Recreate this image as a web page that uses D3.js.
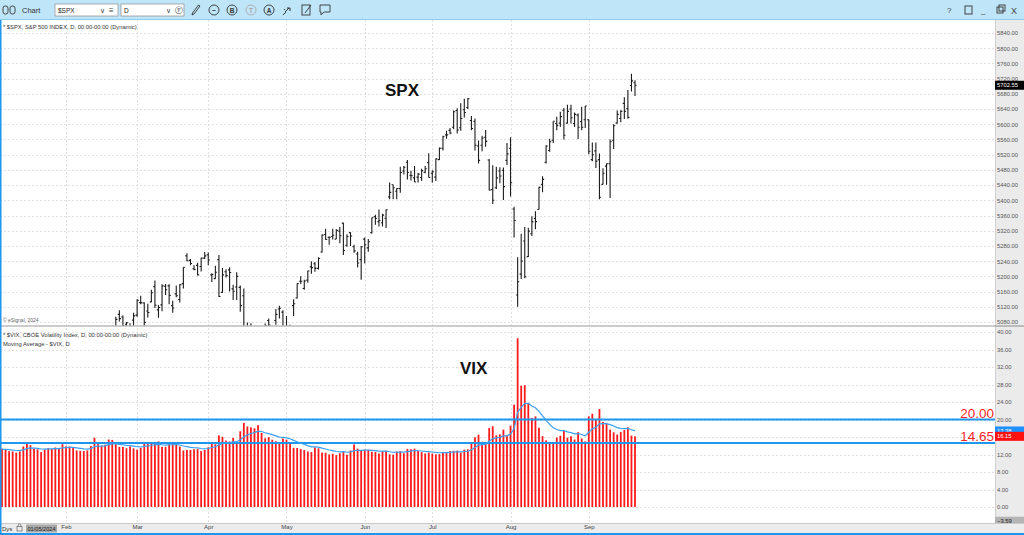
<!DOCTYPE html>
<html>
<head>
<meta charset="utf-8">
<script src="https://cdn.jsdelivr.net/npm/d3@7"></script>
<style>
  body { margin: 0; background: #fff; overflow: hidden; }
  svg { display: block; font-family: "Liberation Sans", Arial, sans-serif; }
</style>
</head>
<body>
<script>
// trading days on screen
var dates = [
  "2024-01-05","2024-01-08","2024-01-09","2024-01-10","2024-01-11","2024-01-12","2024-01-16","2024-01-17","2024-01-18","2024-01-19",
  "2024-01-22","2024-01-23","2024-01-24","2024-01-25","2024-01-26","2024-01-29","2024-01-30","2024-01-31",
  "2024-02-01","2024-02-02","2024-02-05","2024-02-06","2024-02-07","2024-02-08","2024-02-09","2024-02-12","2024-02-13","2024-02-14",
  "2024-02-15","2024-02-16","2024-02-20","2024-02-21","2024-02-22","2024-02-23","2024-02-26","2024-02-27","2024-02-28","2024-02-29",
  "2024-03-01","2024-03-04","2024-03-05","2024-03-06","2024-03-07","2024-03-08","2024-03-11","2024-03-12","2024-03-13","2024-03-14",
  "2024-03-15","2024-03-18","2024-03-19","2024-03-20","2024-03-21","2024-03-22","2024-03-25","2024-03-26","2024-03-27","2024-03-28",
  "2024-04-01","2024-04-02","2024-04-03","2024-04-04","2024-04-05","2024-04-08","2024-04-09","2024-04-10","2024-04-11","2024-04-12",
  "2024-04-15","2024-04-16","2024-04-17","2024-04-18","2024-04-19","2024-04-22","2024-04-23","2024-04-24","2024-04-25","2024-04-26",
  "2024-04-29","2024-04-30",
  "2024-05-01","2024-05-02","2024-05-03","2024-05-06","2024-05-07","2024-05-08","2024-05-09","2024-05-10","2024-05-13","2024-05-14",
  "2024-05-15","2024-05-16","2024-05-17","2024-05-20","2024-05-21","2024-05-22","2024-05-23","2024-05-24","2024-05-28","2024-05-29",
  "2024-05-30","2024-05-31",
  "2024-06-03","2024-06-04","2024-06-05","2024-06-06","2024-06-07","2024-06-10","2024-06-11","2024-06-12","2024-06-13","2024-06-14",
  "2024-06-17","2024-06-18","2024-06-20","2024-06-21","2024-06-24","2024-06-25","2024-06-26","2024-06-27","2024-06-28",
  "2024-07-01","2024-07-02","2024-07-03","2024-07-05","2024-07-08","2024-07-09","2024-07-10","2024-07-11","2024-07-12","2024-07-15",
  "2024-07-16","2024-07-17","2024-07-18","2024-07-19","2024-07-22","2024-07-23","2024-07-24","2024-07-25","2024-07-26","2024-07-29",
  "2024-07-30","2024-07-31",
  "2024-08-01","2024-08-02","2024-08-05","2024-08-06","2024-08-07","2024-08-08","2024-08-09","2024-08-12","2024-08-13","2024-08-14",
  "2024-08-15","2024-08-16","2024-08-19","2024-08-20","2024-08-21","2024-08-22","2024-08-23","2024-08-26","2024-08-27","2024-08-28",
  "2024-08-29","2024-08-30",
  "2024-09-03","2024-09-04","2024-09-05","2024-09-06","2024-09-09","2024-09-10","2024-09-11","2024-09-12","2024-09-13","2024-09-16",
  "2024-09-17","2024-09-18","2024-09-19","2024-09-20"
];

// $SPX daily bars: open, high, low, close
var spx = [
  // Jan
  [4690,4721,4682,4697],[4703,4764,4700,4764],[4741,4765,4730,4757],[4759,4791,4757,4783],[4792,4799,4739,4780],
  [4792,4803,4768,4784],[4772,4782,4747,4766],[4740,4744,4714,4739],[4760,4785,4740,4781],[4797,4842,4785,4840],
  [4853,4868,4844,4851],[4856,4866,4842,4865],[4888,4903,4865,4868],[4886,4898,4866,4895],[4888,4906,4881,4891],
  [4892,4929,4887,4928],[4926,4932,4917,4925],[4900,4906,4845,4846],
  // Feb
  [4862,4906,4853,4906],[4916,4975,4907,4959],[4958,4958,4918,4942],[4951,4957,4934,4954],[4973,5000,4965,4995],
  [4995,5000,4987,4998],[5005,5030,5000,5027],[5026,5048,5016,5022],[4967,4971,4920,4953],[4976,5003,4963,5001],
  [5003,5032,4999,5030],[5031,5039,4999,5006],[4990,4994,4954,4976],[4964,4983,4946,4982],[5038,5094,5038,5087],
  [5100,5111,5081,5089],[5093,5097,5068,5070],[5074,5080,5057,5078],[5067,5077,5058,5069],[5085,5104,5062,5096],
  // Mar
  [5098,5140,5094,5137],[5131,5149,5127,5131],[5130,5132,5061,5079],[5109,5128,5092,5105],[5133,5165,5132,5157],
  [5173,5189,5117,5124],[5112,5125,5091,5118],[5125,5179,5108,5175],[5174,5180,5151,5165],[5175,5179,5127,5150],
  [5123,5136,5104,5117],[5154,5176,5145,5149],[5139,5180,5131,5178],[5181,5224,5168,5224],[5254,5261,5240,5241],
  [5242,5246,5229,5234],[5220,5229,5216,5218],[5229,5236,5203,5204],[5226,5249,5213,5248],[5248,5264,5246,5254],
  // Apr
  [5257,5263,5229,5243],[5204,5208,5185,5205],[5194,5228,5194,5211],[5244,5256,5146,5147],[5158,5222,5157,5204],
  [5212,5219,5197,5202],[5217,5224,5160,5210],[5167,5178,5138,5161],[5172,5211,5138,5200],[5171,5176,5107,5123],
  [5149,5168,5052,5062],[5064,5079,5039,5051],[5068,5077,5007,5022],[5032,5046,4998,5011],[5005,5019,4954,4967],
  [4988,5038,4969,5011],[5029,5076,5027,5070],[5084,5089,5047,5072],[5020,5057,5002,5048],[5084,5114,5073,5100],
  [5114,5123,5089,5116],[5106,5111,5035,5036],
  // May
  [5030,5096,5013,5018],[5050,5073,5011,5064],[5123,5140,5096,5128],[5143,5181,5142,5181],[5187,5200,5180,5187],
  [5168,5191,5165,5188],[5190,5215,5183,5214],[5225,5240,5207,5223],[5233,5238,5212,5221],[5221,5250,5218,5247],
  [5264,5311,5263,5308],[5310,5325,5296,5297],[5303,5305,5283,5303],[5305,5325,5297,5308],[5298,5324,5298,5321],
  [5319,5330,5287,5307],[5340,5341,5256,5268],[5282,5311,5278,5305],[5315,5316,5280,5306],[5278,5283,5262,5267],
  [5259,5265,5223,5235],[5244,5280,5191,5278],
  // Jun
  [5298,5302,5234,5283],[5275,5298,5265,5291],[5315,5354,5313,5354],[5357,5362,5336,5352],[5344,5376,5331,5347],
  [5341,5365,5331,5361],[5353,5376,5327,5375],[5409,5447,5403,5421],[5441,5441,5403,5433],[5424,5432,5403,5431],
  [5431,5488,5420,5473],[5477,5490,5468,5487],[5500,5506,5455,5473],[5466,5478,5452,5465],[5459,5490,5448,5448],
  [5461,5472,5447,5469],[5460,5483,5451,5478],[5474,5490,5471,5483],[5499,5524,5460,5460],
  // Jul
  [5471,5479,5446,5475],[5461,5510,5451,5509],[5507,5539,5506,5537],[5537,5570,5531,5567],[5572,5583,5562,5572],
  [5584,5590,5574,5577],[5592,5636,5587,5633],[5636,5642,5576,5585],[5591,5655,5583,5615],[5638,5667,5618,5631],
  [5644,5669,5640,5667],[5610,5622,5584,5589],[5608,5615,5531,5545],[5543,5557,5497,5505],[5545,5570,5529,5564],
  [5566,5585,5541,5555],[5506,5508,5426,5427],[5428,5492,5390,5400],[5433,5488,5430,5459],[5477,5487,5445,5464],
  [5479,5486,5401,5436],[5505,5551,5493,5522],
  // Aug
  [5537,5566,5410,5446],[5377,5383,5302,5347],[5151,5250,5120,5186],[5206,5312,5193,5240],[5293,5330,5195,5199],
  [5252,5328,5251,5319],[5312,5358,5306,5344],[5352,5371,5324,5344],[5376,5436,5376,5434],[5442,5463,5421,5455],
  [5500,5545,5497,5543],[5531,5562,5528,5554],[5558,5608,5551,5608],[5602,5620,5584,5597],[5603,5633,5593,5620],
  [5637,5643,5560,5571],[5603,5651,5602,5634],[5640,5651,5602,5617],[5602,5631,5593,5626],[5624,5628,5561,5592],
  [5607,5646,5584,5592],[5612,5648,5590,5648],
  // Sep
  [5612,5613,5521,5529],[5507,5552,5503,5520],[5530,5552,5485,5503],[5507,5523,5403,5408],[5442,5484,5442,5471],
  [5490,5497,5441,5496],[5496,5560,5406,5554],[5558,5600,5535,5596],[5603,5636,5602,5626],[5615,5637,5605,5634],
  [5655,5671,5614,5634],[5641,5690,5615,5618],[5702,5733,5686,5714],[5709,5716,5674,5702.55]
];

// $VIX closes, plus the nine sessions before the first bar (seed for the moving average)
var vixPrior = [13.65, 13.03, 12.99, 12.43, 12.47, 12.45, 13.20, 14.04, 14.13];
var vixClose = [
  13.35,13.08,12.76,12.69,12.44,12.70,13.84,14.79,14.13,13.30,13.19,12.55,13.14,13.45,13.26,13.60,13.31,14.35,
  13.88,13.85,13.67,12.93,12.83,12.79,12.93,13.93,15.85,14.38,14.01,14.24,15.42,15.34,14.54,13.75,13.74,13.43,13.84,13.40,
  13.11,13.49,14.46,14.50,14.44,14.74,15.00,13.75,13.75,14.40,14.41,14.33,13.82,12.92,13.06,13.06,13.19,13.24,12.78,13.01,
  13.65,14.61,14.33,16.35,16.03,15.19,14.98,15.80,14.91,17.31,19.23,18.40,18.21,18.00,18.71,16.94,15.69,15.97,15.37,15.03,14.67,15.65,
  15.39,14.68,13.49,13.49,13.23,13.00,12.69,12.55,13.60,13.42,12.45,12.42,11.99,12.15,11.86,12.29,12.77,11.93,12.92,14.28,13.33,12.92,
  13.11,13.06,12.63,12.58,12.22,12.74,12.85,12.04,11.94,12.66,12.75,12.30,13.28,13.20,13.33,12.84,12.55,12.24,12.44,
  12.22,12.03,12.09,12.48,12.37,12.79,12.85,12.89,12.46,13.12,13.19,14.48,15.93,16.52,14.91,14.72,18.04,18.46,16.39,16.60,17.69,16.36,
  18.59,23.39,38.57,27.71,27.85,23.79,20.37,20.71,18.12,16.19,15.23,14.80,14.65,15.88,16.27,17.55,15.86,16.15,15.43,17.11,15.65,15.00,
  20.72,21.32,19.90,22.38,19.45,19.08,17.69,17.07,16.56,17.14,17.61,18.23,16.33,16.15
];

var spxTicks = [5080,5120,5160,5200,5240,5280,5320,5360,5400,5440,5480,5520,5560,5600,5640,5680,5720,5760,5800,5840];
var vixTicks = [0,4,8,12,16,20,24,28,32,36,40];
var vixLevels = [20.00, 14.65];
var maLength = 10;
var maLast = 17.38;
var axisMin = -3.59;

var W = 1024, H = 535;
var plotRight = 995;
var spxTop = 20, spxBottom = 325.5;
var vixTop = 326.5, vixBottom = 523;

var parse = d3.timeParse("%Y-%m-%d");
var fmtMonth = d3.timeFormat("%b");

var x = d3.scaleLinear().domain([0, dates.length - 1]).range([2, 635]);
var ySpx = d3.scaleLinear().domain([5080, 5840]).range([322, 33]);
var yVix = d3.scaleLinear().domain([0, 40]).range([507, 332]);

// first session of each month -> vertical grid + axis label
var monthStarts = [];
dates.forEach(function(d, i) {
  if (i > 0 && dates[i - 1].slice(5, 7) != d.slice(5, 7)) monthStarts.push(i);
});

// exponential moving average of VIX, seeded with the prior sessions
var k = 2 / (maLength + 1);
var ema = d3.mean(vixPrior);
var vixMA = vixClose.map(function(v) {
  ema = ema + k * (v - ema);
  return ema;
});

var svg = d3.select("body").append("svg").attr("width", W).attr("height", H);
svg.append("rect").attr("width", W).attr("height", H).attr("fill", "#fff");

var defs = svg.append("defs");
defs.append("clipPath").attr("id", "clipSpx").append("rect")
  .attr("x", 0).attr("y", spxTop).attr("width", plotRight).attr("height", spxBottom - spxTop);
defs.append("clipPath").attr("id", "clipVix").append("rect")
  .attr("x", 0).attr("y", vixTop).attr("width", plotRight).attr("height", vixBottom - vixTop);

// grid
var grid = svg.append("g").attr("stroke", "#d9d9d9").attr("stroke-dasharray", "2,2").attr("stroke-width", 0.8);
grid.selectAll(".hs").data(spxTicks).enter().append("line")
  .attr("x1", 0).attr("x2", plotRight)
  .attr("y1", function(d) { return Math.round(ySpx(d)) + 0.5; })
  .attr("y2", function(d) { return Math.round(ySpx(d)) + 0.5; });
grid.selectAll(".hv").data(vixTicks).enter().append("line")
  .attr("x1", 0).attr("x2", plotRight)
  .attr("y1", function(d) { return Math.round(yVix(d)) + 0.5; })
  .attr("y2", function(d) { return Math.round(yVix(d)) + 0.5; });
grid.selectAll(".v").data(monthStarts).enter().append("line")
  .attr("x1", function(d) { return Math.round(x(d)) + 0.5; })
  .attr("x2", function(d) { return Math.round(x(d)) + 0.5; })
  .attr("y1", spxTop).attr("y2", vixBottom);

// SPX OHLC bars
var bars = svg.append("g").attr("clip-path", "url(#clipSpx)")
  .attr("stroke", "#1c1c1c").attr("stroke-width", 1.1);
var bar = bars.selectAll("g").data(spx).enter().append("g");
bar.append("line")
  .attr("x1", function(d, i) { return x(i); }).attr("x2", function(d, i) { return x(i); })
  .attr("y1", function(d) { return ySpx(d[1]); }).attr("y2", function(d) { return ySpx(d[2]); });
bar.append("line")
  .attr("x1", function(d, i) { return x(i) - 1.6; }).attr("x2", function(d, i) { return x(i); })
  .attr("y1", function(d) { return ySpx(d[0]); }).attr("y2", function(d) { return ySpx(d[0]); });
bar.append("line")
  .attr("x1", function(d, i) { return x(i); }).attr("x2", function(d, i) { return x(i) + 1.6; })
  .attr("y1", function(d) { return ySpx(d[3]); }).attr("y2", function(d) { return ySpx(d[3]); });

// VIX histogram + MA + levels
var vg = svg.append("g").attr("clip-path", "url(#clipVix)");
vg.selectAll("rect").data(vixClose).enter().append("rect")
  .attr("x", function(d, i) { return x(i) - 0.9; })
  .attr("width", 1.8)
  .attr("y", function(d) { return yVix(d); })
  .attr("height", function(d) { return yVix(0) - yVix(d); })
  .attr("fill", "#ff1a1a");

vg.selectAll(".lvl").data(vixLevels).enter().append("line")
  .attr("x1", 0).attr("x2", plotRight)
  .attr("y1", function(d) { return yVix(d); }).attr("y2", function(d) { return yVix(d); })
  .attr("stroke", "#1e96ee").attr("stroke-width", 2);

vg.append("path").datum(vixMA)
  .attr("fill", "none").attr("stroke", "#3aa0f0").attr("stroke-width", 1.2)
  .attr("d", d3.line().x(function(d, i) { return x(i); }).y(function(d) { return yVix(d); }));

svg.selectAll(".lvlText").data(vixLevels).enter().append("text")
  .attr("x", plotRight - 1).attr("y", function(d) { return yVix(d) - 2; })
  .attr("text-anchor", "end").attr("fill", "#ff1f1f")
  .style("font-size", "13.5px")
  .text(function(d) { return d3.format(".2f")(d); });

// annotations
svg.append("text").attr("x", 385).attr("y", 96).style("font-size", "17px").style("font-weight", "bold")
  .attr("fill", "#111").text("SPX");
svg.append("text").attr("x", 460).attr("y", 374).style("font-size", "17px").style("font-weight", "bold")
  .attr("fill", "#111").text("VIX");

// pane legends
var legend = svg.append("g").attr("fill", "#333").style("font-size", "5.8px");
legend.append("text").attr("x", 3).attr("y", 29).text("* $SPX, S&P 500 INDEX, D, 00:00-00:00 (Dynamic)");
legend.append("text").attr("x", 3).attr("y", 322).style("font-size", "5px").attr("fill", "#666").text("\u00a9 eSignal, 2024");
legend.append("text").attr("x", 3).attr("y", 337).text("* $VIX, CBOE Volatility Index, D, 00:00-00:00 (Dynamic)");
legend.append("text").attr("x", 3).attr("y", 346).text("Moving Average - $VIX, D");

// pane separator
svg.append("line").attr("x1", 0).attr("x2", W).attr("y1", 326).attr("y2", 326)
  .attr("stroke", "#9a9a9a").attr("stroke-width", 1.2);

// right price axes
svg.append("rect").attr("x", plotRight).attr("y", spxTop).attr("width", W - plotRight).attr("height", vixBottom - spxTop)
  .attr("fill", "#ebebeb");
svg.append("line").attr("x1", plotRight + 0.5).attr("x2", plotRight + 0.5).attr("y1", spxTop).attr("y2", vixBottom)
  .attr("stroke", "#cfcfcf");
svg.append("line").attr("x1", plotRight).attr("x2", W).attr("y1", 326).attr("y2", 326)
  .attr("stroke", "#9a9a9a").attr("stroke-width", 1.2);

var axSpx = svg.append("g").attr("transform", "translate(" + plotRight + ",0)")
  .call(d3.axisRight(ySpx).tickValues(spxTicks).tickSize(0).tickPadding(2).tickFormat(d3.format(".2f")));
var axVix = svg.append("g").attr("transform", "translate(" + plotRight + ",0)")
  .call(d3.axisRight(yVix).tickValues(vixTicks).tickSize(0).tickPadding(2).tickFormat(d3.format(".2f")));
[axSpx, axVix].forEach(function(a) {
  a.select(".domain").remove();
  a.selectAll("text").attr("fill", "#555").style("font-size", "5.8px").style("font-family", "Liberation Sans, Arial");
});

// last value tags
function tag(y, label, bg, fg) {
  svg.append("rect").attr("x", plotRight).attr("y", y - 4.5).attr("width", W - plotRight).attr("height", 9).attr("fill", bg);
  svg.append("text").attr("x", plotRight + 2).attr("y", y + 2.1).attr("fill", fg)
    .style("font-size", "5.8px").text(label);
}
var lastSpx = spx[spx.length - 1][3];
tag(ySpx(lastSpx), d3.format(".2f")(lastSpx), "#000", "#fff");
tag(yVix(maLast), d3.format(".2f")(maLast), "#1e90ff", "#fff");
tag(yVix(vixClose[vixClose.length - 1]), d3.format(".2f")(vixClose[vixClose.length - 1]), "#ff1010", "#fff");
tag(yVix(axisMin) - 1.5, d3.format(".2f")(axisMin), "#b4b4b4", "#222");

// time axis strip
svg.append("rect").attr("x", 0).attr("y", vixBottom).attr("width", W).attr("height", H - vixBottom).attr("fill", "#ececec");
svg.append("line").attr("x1", 0).attr("x2", W).attr("y1", vixBottom + 0.5).attr("y2", vixBottom + 0.5).attr("stroke", "#c8c8c8");
var axX = svg.append("g").attr("transform", "translate(0," + vixBottom + ")")
  .call(d3.axisBottom(x).tickValues(monthStarts).tickSize(0).tickPadding(2)
    .tickFormat(function(i) { return fmtMonth(parse(dates[i])); }));
axX.select(".domain").remove();
axX.selectAll("text").attr("fill", "#444").style("font-size", "6px").style("font-family", "Liberation Sans, Arial");

svg.append("text").attr("x", 2).attr("y", 531).attr("fill", "#333").style("font-size", "6px").text("Dys");
svg.append("rect").attr("x", 17).attr("y", 526.5).attr("width", 5).attr("height", 4.5).attr("fill", "none").attr("stroke", "#666").attr("stroke-width", 0.7);
svg.append("path").attr("d", "M18.2,526.5 v-1.3 a1.3,1.3 0 0 1 2.6,0 v1.3").attr("fill", "none").attr("stroke", "#666").attr("stroke-width", 0.7);
svg.append("rect").attr("x", 26).attr("y", 524.5).attr("width", 31).attr("height", 8).attr("fill", "#a9a9a9");
svg.append("text").attr("x", 27.5).attr("y", 530.8).attr("fill", "#222").style("font-size", "5.6px")
  .text(d3.timeFormat("%m/%d/%Y")(parse(dates[0])));

// window frame
svg.append("rect").attr("x", 0).attr("y", 533).attr("width", W).attr("height", 2).attr("fill", "#1e96ee");
svg.append("rect").attr("x", 0).attr("y", 20).attr("width", 1.5).attr("height", H - 20).attr("fill", "#1e96ee");

// toolbar
var tb = svg.append("g");
tb.append("rect").attr("width", W).attr("height", 20).attr("fill", "#bfe5f8");
tb.append("line").attr("x1", 0).attr("x2", W).attr("y1", 19.5).attr("y2", 19.5).attr("stroke", "#8ccbea");
tb.append("rect").attr("x", 3).attr("y", 6).attr("width", 5).attr("height", 8).attr("rx", 2.2).attr("fill", "none").attr("stroke", "#444");
tb.append("rect").attr("x", 10).attr("y", 6).attr("width", 5).attr("height", 8).attr("rx", 2.2).attr("fill", "none").attr("stroke", "#444");
tb.append("text").attr("x", 22).attr("y", 13).attr("fill", "#333").style("font-size", "7.5px").text("Chart");

[[55, "$SPX", "\u2261"], [121, "D", "\u24bb"]].forEach(function(b) {
  tb.append("rect").attr("x", b[0]).attr("y", 4).attr("width", 63).attr("height", 12).attr("fill", "#fff").attr("stroke", "#9a9a9a").attr("stroke-width", 0.8);
  tb.append("text").attr("x", b[0] + 3).attr("y", 12.5).attr("fill", "#222").style("font-size", "6.5px").text(b[1]);
  tb.append("text").attr("x", b[0] + 45).attr("y", 12.5).attr("fill", "#444").style("font-size", "6.5px").text("\u2228");
  tb.append("text").attr("x", b[0] + 54).attr("y", 13).attr("fill", "#444").style("font-size", "8px").text(b[2]);
});

// pencil
tb.append("path").attr("d", "M192,15 l2,-1 l6,-8 l-1.5,-1 l-6,8 z").attr("fill", "none").attr("stroke", "#333").attr("stroke-width", 0.9);
[[214, "~", "#333"], [232, "B", "#333"], [251, "T", "#aaa"], [269, "A", "#333"]].forEach(function(c) {
  tb.append("circle").attr("cx", c[0]).attr("cy", 10).attr("r", 5).attr("fill", "none").attr("stroke", c[2]).attr("stroke-width", 0.9);
  tb.append("text").attr("x", c[0]).attr("y", 12.5).attr("text-anchor", "middle").attr("fill", c[2])
    .style("font-size", "6.5px").style("font-weight", "bold").text(c[1]);
});
tb.append("path").attr("d", "M283,15 l3,-3 M285,12 l4,-4 m-2,0 l3,0 l0,3 M284,9 l1,1").attr("fill", "none").attr("stroke", "#333").attr("stroke-width", 1);
tb.append("rect").attr("x", 302).attr("y", 5).attr("width", 8).attr("height", 10).attr("fill", "none").attr("stroke", "#333").attr("stroke-width", 0.9);
tb.append("path").attr("d", "M305,13 l6,-8").attr("stroke", "#333").attr("stroke-width", 0.9);
tb.append("path").attr("d", "M320,5 h10 v7 h-6 l-3,3 v-3 h-1 z").attr("fill", "none").attr("stroke", "#333").attr("stroke-width", 0.9);

var right = tb.append("g").attr("fill", "#444").style("font-size", "8px");
right.append("text").attr("x", 947).attr("y", 13).text("?");
right.append("rect").attr("x", 965).attr("y", 6).attr("width", 7).attr("height", 8).attr("fill", "none").attr("stroke", "#444");
right.append("text").attr("x", 981).attr("y", 13).text("_");
right.append("rect").attr("x", 997).attr("y", 7).attr("width", 6).attr("height", 6).attr("fill", "none").attr("stroke", "#444");
right.append("rect").attr("x", 999).attr("y", 5).attr("width", 6).attr("height", 6).attr("fill", "none").attr("stroke", "#444");
right.append("text").attr("x", 1011).attr("y", 13.5).style("font-size", "9px").text("X");
</script>
</body>
</html>
